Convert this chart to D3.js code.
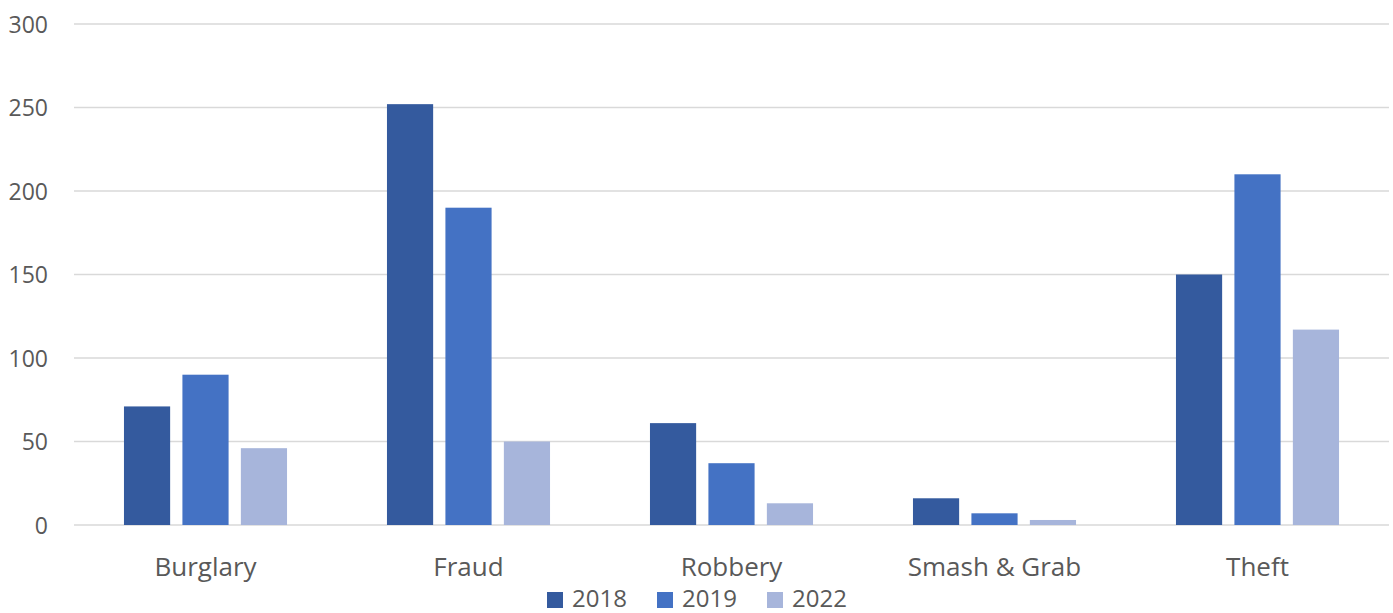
<!DOCTYPE html>
<html><head><meta charset="utf-8">
<script src="https://cdn.jsdelivr.net/npm/d3@7"></script>
<style>body{margin:0;background:#fff}svg{display:block}text{font-family:"Open Sans","Noto Sans",sans-serif;fill:#595959}</style>
</head><body><svg id="c" width="1393" height="613"></svg>
<script>
const categories = ["Burglary","Fraud","Robbery","Smash & Grab","Theft"];
const seriesNames = ["2018","2019","2022"];
const values2018 = [71,252,61,16,150];
const values2019 = [90,190,37,7,210];
const values2022 = [46,50,13,3,117];
const yTicks = [0,50,100,150,200,250,300];
const colors = ["#345A9E","#4472C4","#A7B5DB"];
const seriesValues = [values2018, values2019, values2022];

(function(){
const svg = d3.select("#c");
const mLeft = 74, mRight = 1389, mTop = 24, mBottom = 525;
const ff = '"Open Sans","Noto Sans",sans-serif';
const y = d3.scaleLinear().domain([0,300]).range([mBottom, mTop]);
const x0 = d3.scaleBand().domain(categories).range([mLeft,mRight]).paddingInner(0.38).paddingOuter(0.19);
const x1 = d3.scaleBand().domain(seriesNames).range([0,x0.bandwidth()]).paddingInner(0.21).paddingOuter(0);

svg.append("g").selectAll("line").data(yTicks).join("line")
  .attr("x1",mLeft).attr("x2",mRight)
  .attr("y1",d=>y(d)).attr("y2",d=>y(d))
  .attr("stroke","#d9d9d9").attr("stroke-width",1.5);

const yAxis = d3.axisLeft(y).tickValues(yTicks).tickSize(0).tickPadding(0);
const gy = svg.append("g").attr("transform",`translate(48,0)`).call(yAxis);
gy.select(".domain").remove();
gy.selectAll("text").style("font-size","23px").style("font-family",ff).attr("fill","#595959").attr("dy","0.35em");

categories.forEach((cat,ci)=>{
  seriesNames.forEach((s,si)=>{
    const v = seriesValues[si][ci];
    svg.append("rect")
      .attr("x", x0(cat)+x1(s))
      .attr("y", y(v))
      .attr("width", x1.bandwidth())
      .attr("height", y(0)-y(v))
      .attr("fill", colors[si]);
  });
});

const xAxis = d3.axisBottom(x0).tickSize(0).tickPadding(0);
const gx = svg.append("g").attr("transform",`translate(0,${mBottom})`).call(xAxis);
gx.select(".domain").remove();
gx.selectAll("text").style("font-size","26px").style("font-family",ff).attr("fill","#595959").attr("dy","0").attr("y",51);

const legX = [547,657,767];
const lg = svg.append("g");
seriesNames.forEach((s,i)=>{
  lg.append("rect").attr("x",legX[i]).attr("y",592).attr("width",16).attr("height",16).attr("fill",colors[i]);
  lg.append("text").attr("x",legX[i]+25).attr("y",607).style("font-size","24px").style("font-family",ff).text(s);
});
})();
</script></body></html>
